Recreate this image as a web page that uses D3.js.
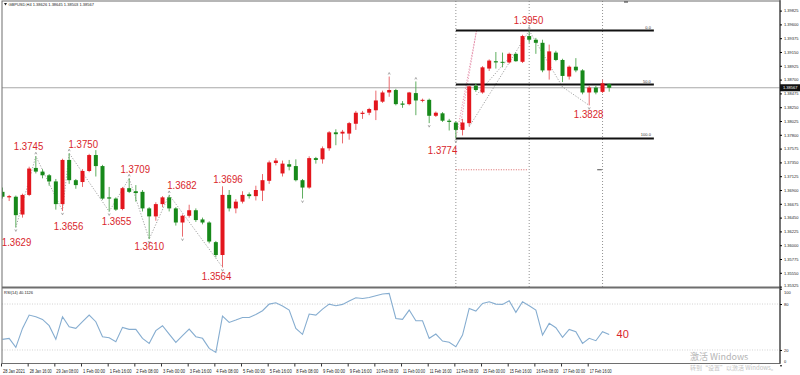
<!DOCTYPE html>
<html>
<head>
<meta charset="utf-8">
<script src="https://cdn.jsdelivr.net/npm/d3@7"></script>
<style>
  body { margin: 0; background: #fff; }
  svg { display: block; font-family: "Liberation Sans", Arial, sans-serif; }
</style>
</head>
<body>
<script>
// GBPUSD H4, 28 Jan 2021 - 18 Feb 2021
var opens  = [1.3687,1.3678,1.3679,1.3650,1.3682,1.3726,1.3720,1.3714,1.3704,1.3667,
              1.3739,1.3706,1.3703,1.3721,1.3747,1.3729,1.3678,1.3676,1.3659,1.3693,
              1.3688,1.3687,1.3660,1.3647,1.3667,1.3678,1.3660,1.3637,1.3648,1.3657,
              1.3642,1.3637,1.3605,1.3584,1.3682,1.3660,1.3671,1.3683,1.3680,1.3689,
              1.3705,1.3734,1.3717,1.3732,1.3729,1.3706,1.3694,1.3742,1.3740,1.3758,
              1.3784,1.3782,1.3782,1.3798,1.3814,1.3816,1.3820,1.3834,1.3849,1.3853,
              1.3831,1.3830,1.3848,1.3836,1.3837,1.3811,1.3815,1.3803,1.3800,1.3788,
              1.3799,1.3860,1.3849,1.3888,1.3900,1.3899,1.3898,1.3912,1.3899,1.3941,
              1.3935,1.3930,1.3885,1.3914,1.3902,1.3875,1.3891,1.3885,1.3849,1.3857,
              1.3850,1.38626];
var highs  = [1.3694,1.3682,1.3681,1.3684,1.3728,1.3745,1.3724,1.3716,1.3708,1.3741,
              1.3750,1.3708,1.3724,1.3749,1.3755,1.3731,1.3695,1.3678,1.3695,1.3709,
              1.3698,1.3690,1.3662,1.3670,1.3680,1.3682,1.3662,1.3650,1.3666,1.3660,
              1.3645,1.3639,1.3607,1.3696,1.3690,1.3675,1.3688,1.3686,1.3697,1.3716,
              1.3738,1.3742,1.3738,1.3739,1.3740,1.3708,1.3745,1.3744,1.3761,1.3786,
              1.3789,1.3788,1.3801,1.3819,1.3819,1.3824,1.3852,1.3852,1.3875,1.3855,
              1.3835,1.3850,1.3867,1.3839,1.3839,1.3818,1.3817,1.3806,1.3802,1.3806,
              1.3861,1.3864,1.3892,1.3903,1.3915,1.3914,1.3914,1.3914,1.3943,1.3950,
              1.3938,1.3935,1.3927,1.3917,1.3904,1.3893,1.3905,1.3887,1.3860,1.3860,
              1.3870,1.38645];
var lows   = [1.3676,1.3672,1.3629,1.3645,1.3680,1.3717,1.3709,1.3697,1.3658,1.3656,
              1.3700,1.3692,1.3695,1.3719,1.3712,1.3674,1.3655,1.3656,1.3657,1.3685,
              1.3671,1.3655,1.3610,1.3640,1.3662,1.3655,1.3632,1.3614,1.3645,1.3638,
              1.3634,1.3603,1.3580,1.3564,1.3655,1.3652,1.3668,1.3676,1.3673,1.3672,
              1.3700,1.3730,1.3712,1.3722,1.3704,1.3676,1.3692,1.3733,1.3733,1.3754,
              1.3763,1.3766,1.3772,1.3788,1.3806,1.3812,1.3804,1.3832,1.3842,1.3828,
              1.3824,1.3828,1.3812,1.3833,1.3799,1.3809,1.3801,1.3787,1.3774,1.3779,
              1.3794,1.3850,1.3847,1.3884,1.3888,1.3890,1.3896,1.3899,1.3897,1.3930,
              1.3912,1.3882,1.3870,1.3900,1.3866,1.3870,1.3882,1.3846,1.3828,1.3846,
              1.3848,1.38503];
var closes = [1.3679,1.3680,1.3649,1.3682,1.3725,1.3720,1.3714,1.3704,1.3667,1.3739,
              1.3706,1.3698,1.3721,1.3747,1.3729,1.3676,1.3676,1.3658,1.3693,1.3687,
              1.3685,1.3660,1.3647,1.3667,1.3678,1.3660,1.3637,1.3648,1.3657,1.3641,
              1.3637,1.3606,1.3584,1.3682,1.3660,1.3671,1.3682,1.3680,1.3690,1.3706,
              1.3735,1.3738,1.3733,1.3728,1.3706,1.3694,1.3742,1.3739,1.3758,1.3784,
              1.3781,1.3785,1.3799,1.3816,1.3816,1.3822,1.3836,1.3849,1.3853,1.3830,
              1.3829,1.3849,1.3836,1.3837,1.3811,1.3816,1.3803,1.3801,1.3788,1.3800,
              1.3859,1.3853,1.3890,1.3901,1.3898,1.3898,1.3912,1.3900,1.3941,1.3935,
              1.3930,1.3885,1.3916,1.3902,1.3876,1.3891,1.3885,1.3849,1.3857,1.3849,
              1.3864,1.38567];
var rsi    = [33.9,35.2,23.4,48.2,65.6,63.4,59.9,51.7,33.9,63.4,
              50.4,48.2,56.9,65.6,56.9,37.3,36.0,30.8,49.5,46.9,
              46.9,35.2,28.6,45.2,51.7,40.8,30.0,38.6,47.3,37.3,
              35.2,22.1,16.9,64.3,56.0,59.1,62.5,62.5,66.4,71.2,
              79.9,81.7,77.3,72.1,48.2,40.4,66.9,65.6,73.4,79.9,
              77.7,79.5,83.8,88.2,87.3,88.6,90.8,93.0,93.8,61.2,
              59.9,72.1,58.2,58.2,35.2,40.8,31.7,30.0,24.3,39.5,
              74.3,70.8,80.8,83.0,79.9,79.5,84.3,69.1,83.0,77.7,
              72.1,39.5,54.7,49.1,36.5,46.9,43.9,28.6,35.2,32.1,
              43.9,40.1];

var timeTickBars = [0,4,8,12,16,20,24,28,32,36,40,44,48,52,56,60,64,68,72,76,80,84,88];
var timeLabels = ["28 Jan 2021","28 Jan 16:00","29 Jan 08:00","1 Feb 00:00","1 Feb 16:00",
                  "2 Feb 08:00","3 Feb 00:00","3 Feb 16:00","4 Feb 08:00","5 Feb 00:00",
                  "5 Feb 16:00","8 Feb 08:00","9 Feb 00:00","9 Feb 16:00","10 Feb 08:00",
                  "11 Feb 00:00","11 Feb 16:00","12 Feb 08:00","15 Feb 00:00","15 Feb 16:00",
                  "16 Feb 08:00","17 Feb 00:00","17 Feb 16:00"];
var priceTicks = [1.39825,1.39600,1.39375,1.39150,1.38925,1.38700,1.38475,1.38250,1.38025,
                  1.37800,1.37575,1.37350,1.37125,1.36900,1.36675,1.36450,1.36225,1.36000,
                  1.35775,1.35550,1.35325];
var rsiTicks = [100, 80, 20, 0];

// swing price notes: text, bar / price where the text sits
var noteText  = ["1.3745","1.3750","1.3709","1.3682","1.3696","1.3629","1.3656","1.3655",
                 "1.3610","1.3564","1.3774","1.3950","1.3828"];
var noteBar   = [1.7, 9.9, 17.7, 24.7, 31.6, -0.1, 7.7, 14.9, 19.8, 29.9, 63.8, 76.7, 85.7];
var notePrice = [1.3756,1.3759,1.3717,1.3691,1.3701,1.3598,1.3625,1.3633,1.3592,1.3543,
                 1.3749,1.3961,1.3807];

// zigzag swing points (first one is a low)
var zigBars   = [2, 5, 9, 10, 16, 19, 22, 25, 33];
// small fractal marks: bar, high(1) or low(0)
var markBars  = [2, 5, 9, 10, 16, 19, 22, 25, 27, 33, 45, 58, 62, 64, 68, 79, 88];
var markHigh  = [0, 1, 0, 1, 0, 1, 0, 1, 0, 0, 0, 1, 1, 0, 0, 1, 0];

// hand drawn dotted lines round the last swing: [bar, price] pairs
var greyLines = [[[70.0, 1.3793], [79, 1.3950]],
                 [[71.1, 1.3845], [76.6, 1.3913]],
                 [[79, 1.3950], [84, 1.3858], [88, 1.3828]]];
var pinkLines = [[[68, 1.3774], [71.1, 1.3950]],
                 [[68.6, 1.3790], [71.1, 1.3950]]];

// fibonacci retracement
var fibLevels = [0, 50, 100];
var fibHigh = 1.3950, fibLow = 1.3774;
var fibFrom = 68, fibTo = 97.7;
var vLineBars = [68, 79, 90];
var redLevel = 1.3723;

var W = 800, H = 375;
var left = 2, right = 780;
var mainTop = 1, mainBottom = 287;
var rsiTop = 289, rsiBottom = 363.5;
var red = "#e3161d", green = "#17891a";

var svg = d3.select("body").append("svg")
            .attr("width", W)
            .attr("height", H);

var x = d3.scaleLinear().domain([0, 91]).range([2.5, 609.2]);
var y = d3.scaleLinear().domain([1.35325, 1.39825]).range([286.6, 10.6]);
var yr = d3.scaleLinear().domain([0, 100]).range([365.3, 288.7]);

svg.append("defs").append("clipPath").attr("id", "mainClip")
   .append("rect").attr("x", left).attr("y", mainTop)
   .attr("width", right - left).attr("height", mainBottom - mainTop);
svg.append("defs").append("clipPath").attr("id", "rsiClip")
   .append("rect").attr("x", left).attr("y", rsiTop)
   .attr("width", right - left).attr("height", rsiBottom - rsiTop);

var main = svg.append("g").attr("clip-path", "url(#mainClip)");

// vertical dotted lines
main.selectAll(".vline")
    .data(vLineBars)
    .enter().append("line")
    .attr("x1", function(d) { return x(d); })
    .attr("x2", function(d) { return x(d); })
    .attr("y1", mainTop)
    .attr("y2", mainBottom)
    .style("stroke", "#777")
    .style("stroke-width", 0.8)
    .style("stroke-dasharray", "1,2");

// bid line
main.append("line")
    .attr("x1", left).attr("x2", right)
    .attr("y1", y(closes[91])).attr("y2", y(closes[91]))
    .style("stroke", "#a8a8a8")
    .style("stroke-width", 1);

// zigzag
var pl = d3.line()
           .x(function(d) { return x(d[0]); })
           .y(function(d) { return y(d[1]); });

var zigPts = zigBars.map(function(b, k) {
  return [b, k % 2 == 0 ? lows[b] : highs[b]];
});

main.append("path")
    .datum(zigPts)
    .attr("d", pl)
    .style("fill", "none")
    .style("stroke", "#8c8c8c")
    .style("stroke-width", 0.8)
    .style("stroke-dasharray", "1.2,1.6");

main.selectAll(".grey")
    .data(greyLines)
    .enter().append("path")
    .attr("d", pl)
    .style("fill", "none")
    .style("stroke", "#8c8c8c")
    .style("stroke-width", 0.8)
    .style("stroke-dasharray", "1.2,1.6");

main.selectAll(".pink")
    .data(pinkLines)
    .enter().append("path")
    .attr("d", pl)
    .style("fill", "none")
    .style("stroke", "#e07a9a")
    .style("stroke-width", 0.8)
    .style("stroke-dasharray", "1.2,1.6");

// red dotted level
main.append("line")
    .attr("x1", x(68)).attr("x2", x(78.7))
    .attr("y1", y(redLevel)).attr("y2", y(redLevel))
    .style("stroke", "#d04040")
    .style("stroke-width", 0.8)
    .style("stroke-dasharray", "1,1.5");
main.append("line")
    .attr("x1", x(89.2)).attr("x2", x(89.9))
    .attr("y1", y(redLevel)).attr("y2", y(redLevel))
    .style("stroke", "#222")
    .style("stroke-width", 0.8);

// fib levels
fibLevels.forEach(function(l) {
  var p = fibHigh - l / 100 * (fibHigh - fibLow);
  main.append("line")
      .attr("x1", x(fibFrom)).attr("x2", x(fibTo))
      .attr("y1", y(p)).attr("y2", y(p))
      .style("stroke", "#111")
      .style("stroke-width", 2);
  main.append("text")
      .attr("x", x(fibTo) - 3)
      .attr("y", y(p) - 2)
      .attr("text-anchor", "end")
      .style("font-size", "4px")
      .style("fill", "#333")
      .text(l.toFixed(1));
});

// candles
var idx = d3.range(opens.length);

main.selectAll(".wick")
    .data(idx)
    .enter().append("line")
    .attr("x1", function(i) { return x(i); })
    .attr("x2", function(i) { return x(i); })
    .attr("y1", function(i) { return y(highs[i]); })
    .attr("y2", function(i) { return y(lows[i]); })
    .style("stroke", function(i) { return closes[i] >= opens[i] ? "#ea6a6e" : "#5fae60"; })
    .style("stroke-width", 1);

main.selectAll(".body")
    .data(idx)
    .enter().append("rect")
    .attr("x", function(i) { return x(i) - 2; })
    .attr("width", 4)
    .attr("y", function(i) { return y(Math.max(opens[i], closes[i])); })
    .attr("height", function(i) { return Math.max(1, Math.abs(y(opens[i]) - y(closes[i]))); })
    .style("fill", function(i) { return closes[i] >= opens[i] ? red : green; });

// fractal marks
main.selectAll(".mark")
    .data(markBars)
    .enter().append("path")
    .attr("d", function(b, k) {
      var cx = x(b);
      if (markHigh[k]) {
        var cy = y(highs[b]) - 3;
        return "M" + (cx - 1) + "," + (cy + 1) + "L" + cx + "," + (cy - 1) + "L" + (cx + 1) + "," + (cy + 1);
      }
      var cy = y(lows[b]) + 3;
      return "M" + (cx - 1) + "," + (cy - 1) + "L" + cx + "," + (cy + 1) + "L" + (cx + 1) + "," + (cy - 1);
    })
    .style("fill", "none")
    .style("stroke", "#888")
    .style("stroke-width", 0.7);

// swing notes
main.selectAll(".note")
    .data(noteText)
    .enter().append("text")
    .attr("x", function(d, i) { return x(noteBar[i]); })
    .attr("y", function(d, i) { return y(notePrice[i]); })
    .attr("textLength", 29.5)
    .attr("lengthAdjust", "spacingAndGlyphs")
    .style("font-size", "11px")
    .style("fill", "#d9262b")
    .text(function(d) { return d; });

// RSI panel
var rsiG = svg.append("g").attr("clip-path", "url(#rsiClip)");

[80, 20].forEach(function(l) {
  rsiG.append("line")
      .attr("x1", left).attr("x2", right)
      .attr("y1", yr(l)).attr("y2", yr(l))
      .style("stroke", "#c8c8c8")
      .style("stroke-width", 0.8)
      .style("stroke-dasharray", "1,1.5");
});

rsiG.append("path")
    .datum(rsi)
    .attr("d", d3.line()
                 .x(function(d, i) { return x(i); })
                 .y(function(d) { return yr(d); }))
    .style("fill", "none")
    .style("stroke", "#86add0")
    .style("stroke-width", 1.1);

svg.append("text")
   .attr("x", x(92.1))
   .attr("y", yr(35.2))
   .style("font-size", "11px")
   .style("fill", "#d9262b")
   .text("40");

svg.append("text")
   .attr("x", 4).attr("y", 294)
   .style("font-size", "4px")
   .style("fill", "#222")
   .text("RSI(14) 40.1126");

// frame
svg.append("rect")
   .attr("x", left).attr("y", mainTop)
   .attr("width", right - left).attr("height", rsiBottom - mainTop)
   .style("fill", "none")
   .style("stroke", "#6e6e6e")
   .style("stroke-width", 1);
svg.append("line")
   .attr("x1", left).attr("x2", right)
   .attr("y1", 287.5).attr("y2", 287.5)
   .style("stroke", "#6e6e6e")
   .style("stroke-width", 2);
svg.append("line")
   .attr("x1", 624).attr("x2", 628)
   .attr("y1", 2).attr("y2", 2)
   .style("stroke", "#333")
   .style("stroke-width", 1);

// price axis
var yAxis = svg.append("g")
   .attr("transform", "translate(" + right + ",0)")
   .call(d3.axisRight(y).tickValues(priceTicks).tickSize(2).tickPadding(2)
           .tickFormat(d3.format(".5f")));
yAxis.select(".domain").attr("d", "M0,0V" + rsiBottom).style("stroke", "#333");
yAxis.selectAll("text").style("font-size", "4px").style("fill", "#222")
     .style("font-family", "Liberation Sans, Arial, sans-serif")
     .attr("dy", function(d) { return d == 1.35325 ? "0em" : "0.32em"; });

var rAxis = svg.append("g")
   .attr("transform", "translate(" + right + ",0)")
   .call(d3.axisRight(yr).tickValues(rsiTicks).tickSize(2).tickPadding(2));
rAxis.select(".domain").remove();
rAxis.selectAll("text").style("font-size", "4px").style("fill", "#222")
     .style("font-family", "Liberation Sans, Arial, sans-serif")
     .attr("dy", function(d) {
       if (d == 0) return "-0.8em";
       if (d == 100) return "1.1em";
       return "0.32em";
     });

// bid price box
svg.append("rect")
   .attr("x", right).attr("y", y(closes[91]) - 3.5)
   .attr("width", 20).attr("height", 7)
   .style("fill", "#111");
svg.append("text")
   .attr("x", right + 3).attr("y", y(closes[91]) + 1.4)
   .style("font-size", "4px")
   .style("fill", "#fff")
   .text(closes[91].toFixed(5));

// time axis
var xAxis = svg.append("g")
   .attr("transform", "translate(0," + rsiBottom + ")")
   .call(d3.axisBottom(x).tickValues(timeTickBars).tickSize(3).tickPadding(3)
           .tickFormat(function(d, i) { return timeLabels[i]; }));
xAxis.select(".domain").remove();
xAxis.selectAll(".tick line").attr("transform", "translate(-1.5,0)").style("stroke", "#333");
xAxis.selectAll("text")
     .attr("text-anchor", "start")
     .attr("x", 0)
     .attr("textLength", 22)
     .attr("lengthAdjust", "spacingAndGlyphs")
     .style("font-size", "4.6px")
     .style("fill", "#222")
     .style("font-family", "Liberation Sans, Arial, sans-serif");

// header
svg.append("path")
   .attr("d", "M4,3 L7,3 L5.5,5.5 Z")
   .style("fill", "#222");
svg.append("text")
   .attr("x", 8.5).attr("y", 6)
   .style("font-size", "4px")
   .style("fill", "#222")
   .text("GBPUSD,H4  1.38626 1.38645 1.38503 1.38567");

// windows watermark
svg.append("text")
   .attr("x", 690).attr("y", 360)
   .style("font-family", "Noto Sans CJK SC, sans-serif")
   .style("font-size", "9px")
   .style("fill", "#b4b4b4")
   .text("激活 Windows");
svg.append("text")
   .attr("x", 690).attr("y", 370)
   .style("font-family", "Noto Sans CJK SC, sans-serif")
   .style("font-size", "6px")
   .style("fill", "#c4c4c4")
   .text("转到“设置”以激活 Windows。");
</script>
</body>
</html>
